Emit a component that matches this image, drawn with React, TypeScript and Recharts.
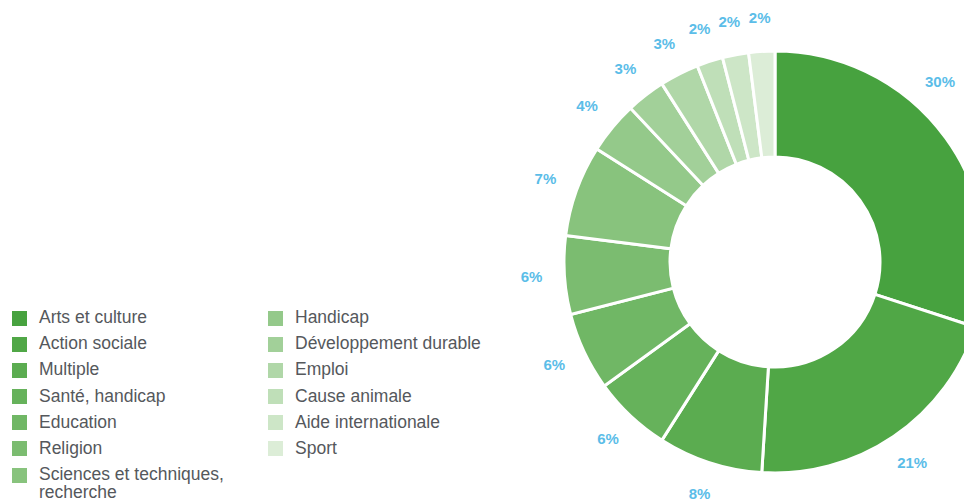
import { PieChart, Pie, Cell, Legend } from "recharts";

const categories = [
  "Arts et culture",
  "Action sociale",
  "Multiple",
  "Santé, handicap",
  "Education",
  "Religion",
  "Sciences et techniques, recherche",
  "Handicap",
  "Développement durable",
  "Emploi",
  "Cause animale",
  "Aide internationale",
  "Sport",
];

const shares = [30, 21, 8, 6, 6, 6, 7, 4, 3, 3, 2, 2, 2];

const colors = [
  "#47a23f",
  "#50a746",
  "#5bac50",
  "#66b25b",
  "#70b765",
  "#7bbc70",
  "#88c37d",
  "#94c98a",
  "#a2d099",
  "#b0d7a8",
  "#bfdfb8",
  "#cde6c7",
  "#dcedd7",
];

const data = categories.map((name, i) => ({ name, value: shares[i] }));

const LABEL_COLOR = "#5bbde8";
const TEXT_COLOR = "#55585c";
const FONT = "'Liberation Sans', Arial, sans-serif";

const renderLabel = (props: any) => {
  const { cx, cy, midAngle, value } = props;
  const rad = Math.PI / 180;
  const r = 244;
  const maxX = 932;
  let a = midAngle;
  // slide the label along the circle if it would fall outside the view
  if (cx + r * Math.cos(a * rad) > maxX) {
    a = Math.acos((maxX - cx) / r) / rad;
  }
  const x = cx + r * Math.cos(-a * rad);
  const y = cy + r * Math.sin(-a * rad) - 1;
  return (
    <text
      x={x}
      y={y}
      fill={LABEL_COLOR}
      textAnchor="middle"
      dominantBaseline="central"
      fontSize={15}
      fontWeight={600}
      fontFamily={FONT}
    >
      {value}%
    </text>
  );
};

const LegendBox = () => {
  const col1 = data.slice(0, 7);
  const col2 = data.slice(7);
  const item = (d: { name: string }) => (
    <div
      key={d.name}
      style={{ display: "flex", alignItems: "flex-start", height: 26.2 }}
    >
      <span
        style={{
          width: 15,
          height: 15,
          background: colors[categories.indexOf(d.name)],
          marginTop: 2.5,
          marginRight: 12,
          flexShrink: 0,
        }}
      />
      <span style={{ lineHeight: "18px", fontSize: 17.5 }}>
        {d.name === "Sciences et techniques, recherche" ? (
          <>
            Sciences et techniques,
            <br />
            recherche
          </>
        ) : (
          d.name
        )}
      </span>
    </div>
  );
  return (
    <div style={{ display: "flex", color: TEXT_COLOR, fontFamily: FONT }}>
      <div style={{ width: 256 }}>{col1.map(item)}</div>
      <div>{col2.map(item)}</div>
    </div>
  );
};

export default function App() {
  return (
    <PieChart width={964} height={493}>
      <Pie
        data={data}
        dataKey="value"
        nameKey="name"
        cx={762}
        cy={249}
        innerRadius={105}
        outerRadius={211}
        startAngle={90}
        endAngle={-270}
        stroke="#ffffff"
        strokeWidth={3}
        label={renderLabel}
        labelLine={false}
        isAnimationActive={false}
      >
        {data.map((d, i) => (
          <Cell key={d.name} fill={colors[i]} />
        ))}
      </Pie>
      <Legend
        content={<LegendBox />}
        wrapperStyle={{ left: 4, top: 300, width: 520, bottom: "auto" }}
      />
    </PieChart>
  );
}
